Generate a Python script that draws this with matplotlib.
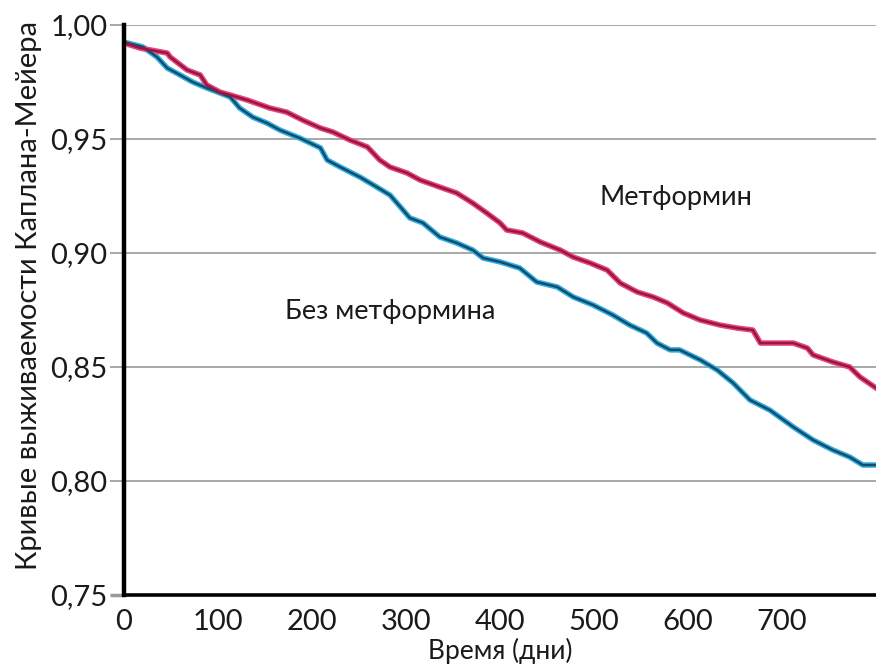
import matplotlib
matplotlib.use("Agg")
import matplotlib.pyplot as plt
from matplotlib.ticker import FuncFormatter

plt.rcParams["font.family"] = ["Lato", "DejaVu Sans"]

# Kaplan-Meier breakpoints (day, survival)
met_days = [0, 17, 46, 49, 67, 81, 88, 102, 113, 131, 155, 173, 190, 209, 222,
            240, 259, 272, 283, 301, 315, 336, 354, 371, 386, 400, 407, 424, 443,
            464, 478, 496, 514, 528, 546, 563, 578, 595, 613, 634, 652, 669, 677,
            712, 727, 733, 754, 772, 783, 800]
met_surv = [0.9921, 0.9899, 0.9877, 0.9860, 0.9803, 0.9781, 0.9737, 0.9706,
            0.9693, 0.9671, 0.9636, 0.9618, 0.9583, 0.9548, 0.9531, 0.9496,
            0.9465, 0.9408, 0.9377, 0.9351, 0.9320, 0.9289, 0.9263, 0.9219,
            0.9175, 0.9132, 0.9101, 0.9088, 0.9048, 0.9013, 0.8982, 0.8956,
            0.8925, 0.8868, 0.8829, 0.8807, 0.8781, 0.8737, 0.8706, 0.8684,
            0.8671, 0.8662, 0.8605, 0.8605, 0.8583, 0.8553, 0.8522, 0.8500,
            0.8456, 0.8408]

nomet_days = [0, 20, 35, 46, 56, 73, 88, 102, 113, 123, 137, 152, 166, 187, 209,
              216, 230, 251, 269, 283, 294, 304, 318, 336, 354, 371, 382, 400,
              421, 439, 461, 478, 499, 520, 538, 556, 567, 581, 591, 613, 631,
              648, 666, 687, 712, 733, 754, 772, 786, 800]
nomet_surv = [0.9925, 0.9904, 0.9860, 0.9811, 0.9789, 0.9750, 0.9724, 0.9702,
              0.9684, 0.9636, 0.9596, 0.9570, 0.9539, 0.9504, 0.9461, 0.9408,
              0.9377, 0.9333, 0.9289, 0.9254, 0.9202, 0.9154, 0.9132, 0.9070,
              0.9044, 0.9013, 0.8978, 0.8961, 0.8934, 0.8873, 0.8851, 0.8807,
              0.8772, 0.8728, 0.8684, 0.8649, 0.8605, 0.8575, 0.8575, 0.8531,
              0.8487, 0.8430, 0.8355, 0.8311, 0.8237, 0.8180, 0.8136, 0.8105,
              0.8070, 0.8070]

x_ticks = [0, 100, 200, 300, 400, 500, 600, 700]
y_ticks = [0.75, 0.80, 0.85, 0.90, 0.95, 1.00]

fig = plt.figure(figsize=(8.76, 6.71), dpi=100)
ax = fig.add_axes([0.1416, 0.1133, 0.8584, 0.8494])

# horizontal grid
for y in y_ticks[1:]:
    ax.axhline(y, color="#9a9a9a", lw=1.2, zorder=1)

# curves: light halo under a dark core
ax.plot(nomet_days, nomet_surv, color="#35aee0", lw=4.0, zorder=3)
ax.plot(nomet_days, nomet_surv, color="#0f4e6e", lw=1.8, zorder=4)
ax.plot(met_days, met_surv, color="#e5487f", lw=4.0, zorder=3)
ax.plot(met_days, met_surv, color="#9c1440", lw=1.8, zorder=4)

ax.set_xlim(0, 800)
ax.set_ylim(0.75, 1.00)
ax.set_xticks(x_ticks)
ax.set_yticks(y_ticks)
ax.yaxis.set_major_formatter(FuncFormatter(lambda v, p: f"{v:.2f}".replace(".", ",")))

for s in ["top", "right"]:
    ax.spines[s].set_visible(False)
ax.spines["left"].set_linewidth(3.2)
ax.spines["bottom"].set_linewidth(2.6)
ax.spines["left"].set_zorder(5)
ax.spines["bottom"].set_zorder(5)

ax.tick_params(axis="x", length=0, pad=10, labelsize=21, labelcolor="#1a1a1a")
ax.tick_params(axis="y", length=10, width=1.2, color="#9a9a9a", pad=2,
               labelsize=21, labelcolor="#1a1a1a")
ax.yaxis.get_major_ticks()[0].tick1line.set_color("black")
ax.yaxis.get_major_ticks()[0].tick1line.set_markeredgewidth(2.5)

ax.set_xlabel("Время (дни)", fontsize=19, labelpad=2, color="#1a1a1a")
ax.set_ylabel("Кривые выживаемости Каплана-Мейера", fontsize=21,
              color="#1a1a1a")
ax.yaxis.set_label_coords(-0.109, 0.525)

ax.text(587, 0.9245, "Метформин", fontsize=19.5, ha="center", va="center",
        color="#1a1a1a")
ax.text(283, 0.8745, "Без метформина", fontsize=19.5, ha="center", va="center",
        color="#1a1a1a")

fig.savefig("out.png", dpi=100)
